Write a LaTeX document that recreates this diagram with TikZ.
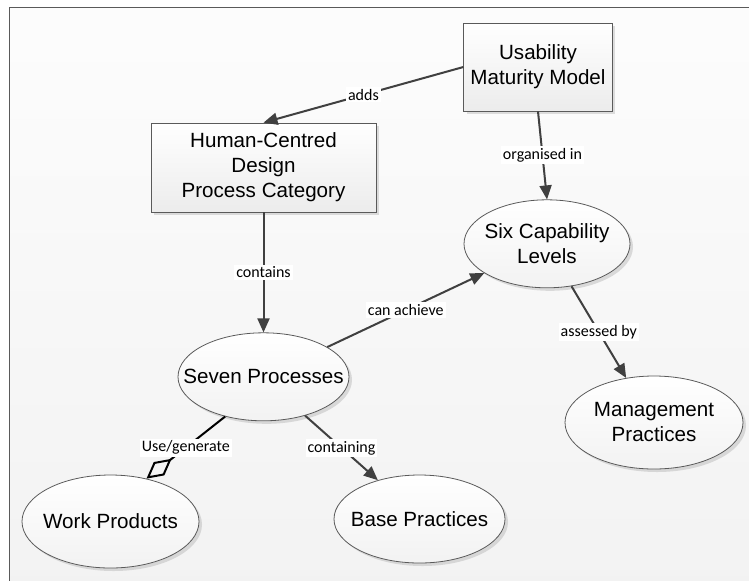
\documentclass[tikz,border=0pt]{standalone}
\usepackage{fontspec}
\setmainfont{Liberation Sans}
\newfontfamily\linkfont{Carlito}
\usetikzlibrary{positioning,arrows.meta,shapes.geometric,shadows}

\definecolor{linkgray}{HTML}{404040}
\definecolor{edgegray}{HTML}{5A5A5A}

\begin{document}
\begin{tikzpicture}[
    x=0.5pt, y=-0.5pt,
    box/.style={rectangle, draw=edgegray, thin, top color=white, bottom color=gray!15,
        drop shadow={shadow xshift=1.5pt, shadow yshift=-1.5pt, opacity=0.25},
        align=center, font=\fontsize{10.3}{12.5}\selectfont, minimum width=#1},
    box/.default={74pt},
    concept/.style={ellipse, draw=edgegray, thin, top color=white, bottom color=gray!10,
        drop shadow={shadow xshift=1.5pt, shadow yshift=-1.5pt, opacity=0.25},
        inner xsep=-15pt, inner ysep=0pt, align=center,
        font=\fontsize{10.3}{12.5}\selectfont, minimum width=#1, minimum height=44pt},
    concept/.default={85.5pt},
    link/.style={-{Triangle[length=7pt, width=6pt]}, draw=linkgray, line width=1pt},
    uses/.style={-{Diamond[open, length=16pt, width=8.5pt]}, draw=black, line width=1pt},
    rel/.style={fill=white, inner sep=1pt, font=\linkfont\fontsize{8}{9}\selectfont},
    ]
    \useasboundingbox (0,0) rectangle (749,580);

    %% frame
    \fill[top color=gray!2, bottom color=gray!10] (9.5,7.5) rectangle (760,590);
    \draw[edgegray, line width=0.8pt] (9.5,590) -- (9.5,7.5) -- (760,7.5);

    %% concepts
    \node[box, minimum height=44pt] (umm) at (538,67) {Usability\\Maturity Model};
    \node[box=112.5pt, minimum height=44.5pt] (hcd) at (263.5,167.5) {Human-Centred\\Design\\Process Category};
    \node[concept=83pt, below=44pt of umm, xshift=4.5pt] (six) {Six Capability\\Levels};
    \node[concept, below=60pt of hcd] (seven) {Seven Processes};
    \node[concept=89pt, minimum height=46.5pt] (mgmt) at (654,422.5) {Management\\Practices};
    \node[concept=88.5pt, minimum height=46.5pt] (work) at (110.5,521.5) {Work Products};
    \node[concept] (base) at (419.5,519) {Base Practices};

    %% relations
    \draw[link] (umm.west) to node[rel] {adds} (hcd.north);
    \draw[link] (umm.south) to node[rel] {organised in} (six.north);
    \draw[link] (hcd.south) to node[rel] {contains} (seven.north);
    \draw[link] (seven.25) to node[rel] {can achieve} (six.205);
    \draw[link] (six.-60) to node[rel] {assessed by} (mgmt.122);
    \draw[link] (seven.-43) to node[rel] {containing} (base.137);
    \draw[uses] (seven.226) to node[rel] {Use/generate} (work.50);

\end{tikzpicture}
\end{document}
